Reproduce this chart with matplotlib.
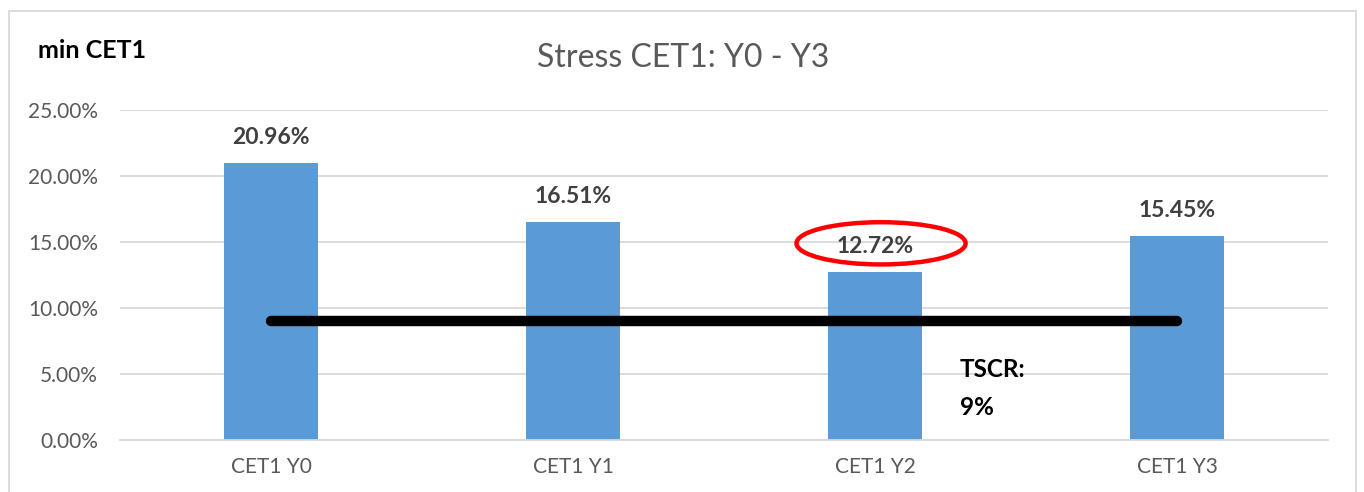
import matplotlib
matplotlib.use("Agg")
import matplotlib.pyplot as plt
from matplotlib.patches import Ellipse, Rectangle

categories = ["CET1 Y0", "CET1 Y1", "CET1 Y2", "CET1 Y3"]
values = [20.96, 16.51, 12.72, 15.45]
labels = ["20.96%", "16.51%", "12.72%", "15.45%"]
tscr = 9.0
yticks = [0, 5, 10, 15, 20, 25]

plt.rcParams['font.family'] = ['Lato', 'DejaVu Sans']

fig = plt.figure(figsize=(13.64, 4.92), dpi=100)
ax = fig.add_axes([120/1364, 1-440/492, (1328-120)/1364, (440-110)/492])

x = list(range(len(categories)))
ax.bar(x, values, width=0.31, color="#5b9bd5", zorder=2)
for xi, v, lab in zip(x, values, labels):
    ax.text(xi, v + 1.15, lab, ha="center", va="bottom", fontsize=16.5,
            fontweight="bold", color="#404040", zorder=4)

ax.plot([x[0], x[-1]], [tscr, tscr], color="black", lw=7.5,
        solid_capstyle="round", zorder=3)

ax.add_patch(Ellipse((2.02, 14.9), 0.56, 3.2, fill=False, edgecolor="#ff0000",
                     lw=3.2, zorder=5, clip_on=False))

ax.text(2.28, 3.9, "TSCR:\n9%", fontsize=17.5, fontweight="bold", color="black",
        ha="left", va="center", linespacing=1.75, zorder=4)

ax.set_xlim(-0.5, 3.5)
ax.set_ylim(0, 25)
ax.set_yticks(yticks)
ax.set_yticklabels([f"{t:.2f}%" for t in yticks])
ax.set_xticks(x)
ax.set_xticklabels(categories)
ax.tick_params(axis="both", length=0, colors="#595959", labelsize=15)
ax.tick_params(axis="x", pad=12)
ax.tick_params(axis="y", pad=16)
ax.grid(axis="y", color="#d9d9d9", lw=1.3, zorder=0)
ax.set_axisbelow(True)
for s in ["top", "right", "left"]:
    ax.spines[s].set_visible(False)
ax.spines["bottom"].set_color("#d9d9d9")
ax.spines["bottom"].set_linewidth(1.3)

fig.text(683/1364, 1-58/492, "Stress CET1: Y0 - Y3", ha="center", va="center",
         fontsize=23, color="#595959")
fig.text(38/1364, 1-50/492, "min CET1", ha="left", va="center",
         fontsize=18, fontweight="bold", color="black")

fig.patches.append(Rectangle((9/1364, -0.1), (1356-9)/1364, 1.1 - 11/492,
                             transform=fig.transFigure, fill=False,
                             edgecolor="#d9d9d9", lw=1.3))

fig.savefig("out.png", dpi=100)
